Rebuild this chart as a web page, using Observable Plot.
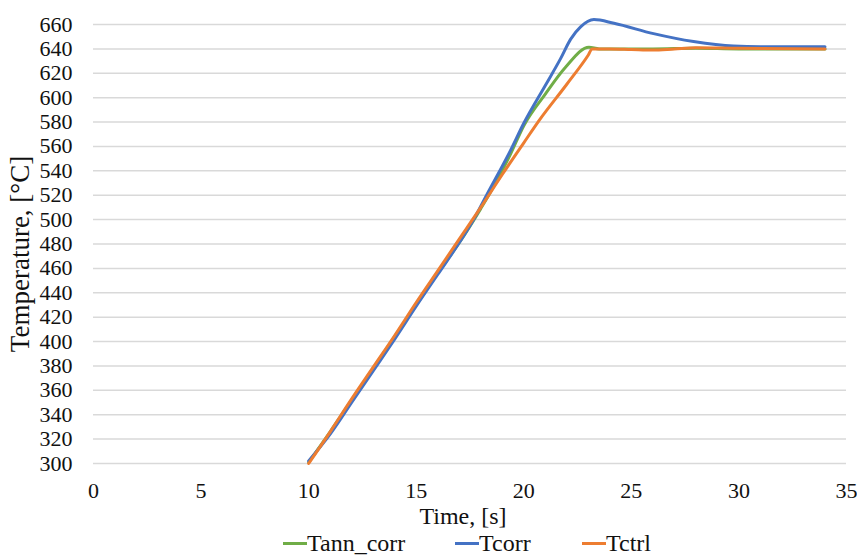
<!DOCTYPE html>
<html>
<head>
<meta charset="utf-8">
<script src="https://cdn.jsdelivr.net/npm/d3@7"></script>
<script src="https://cdn.jsdelivr.net/npm/@observablehq/plot@0.6"></script>
<style>
  html, body { margin: 0; padding: 0; background: #fff; }
  #chart { width: 857px; }
  #chart svg { display: block; }
  .legend { width: 857px; height: 27px; font-family: "Liberation Serif", serif; font-size: 24px; color: #111; white-space: nowrap; padding-left: 283px; box-sizing: border-box; }
  .legend span.item { display: inline-flex; align-items: center; line-height: 26px; vertical-align: top; }
  .legend span.sw { display: inline-block; width: 24px; height: 3px; }
</style>
</head>
<body>
<div id="chart"></div>
<script>
const seriesNames = ["Tann_corr", "Tcorr", "Tctrl"];
const seriesColors = ["#70AD47", "#4472C4", "#ED7D31"];

const tannTime = [10, 11, 12, 13, 14, 15, 16, 17, 18, 18.5, 19.39, 20.0, 21.0, 21.94, 23.03, 23.5, 24, 26, 28, 30, 34];
const tannTemp = [301, 326, 352, 378, 404, 430, 456, 481, 509, 524, 554, 577, 603, 625, 641.4, 640, 640, 640, 640.5, 640, 640];

const tcorrTime = [10, 11, 12, 13, 14, 15, 16, 17, 17.67, 18.3, 19.39, 20.0, 21.0, 21.71, 22.18, 22.64, 23.26, 24.19, 26.03, 27.89, 29.75, 31, 34];
const tcorrTemp = [302, 324, 350, 376, 402, 429, 455, 481, 500, 521, 557, 579, 610, 632, 648, 658, 664, 661, 652.5, 646, 642.3, 641.8, 641.8];

const tctrlTime = [10, 11, 12, 13, 14, 15, 16, 17, 18, 19, 20, 20.7, 22, 23, 23.18, 24, 25, 26, 27, 28, 30, 34];
const tctrlTemp = [300, 326, 353, 379, 405, 432, 458, 484, 510, 537, 563, 581, 611, 635, 640, 640, 639.5, 639, 640, 641, 640.5, 640];

const xTicks = [0, 5, 10, 15, 20, 25, 30, 35];
const yTicks = d3.range(300, 661, 20);
const xTitle = "Time, [s]";
const yTitle = "Temperature, [°C]";

const series = [
  tannTime.map((t, i) => ({t, v: tannTemp[i], s: seriesNames[0]})),
  tcorrTime.map((t, i) => ({t, v: tcorrTemp[i], s: seriesNames[1]})),
  tctrlTime.map((t, i) => ({t, v: tctrlTemp[i], s: seriesNames[2]}))
];

const FONT = "'Liberation Serif', serif";
const INK = "#111";

const chart = Plot.plot({
  width: 857,
  height: 530,
  marginLeft: 93,
  marginRight: 11,
  marginTop: 24,
  marginBottom: 67,
  style: { fontFamily: FONT, fontSize: "22px", color: INK, background: "#fff" },
  x: { domain: [0, 35], axis: null },
  y: { domain: [300, 660], axis: null },
  marks: [
    Plot.gridY(yTicks, { stroke: "#d9d9d9", strokeOpacity: 1, strokeWidth: 1.5 }),
    Plot.text(xTicks, { x: d => d, text: d => String(d), frameAnchor: "bottom", dy: 27, lineAnchor: "middle", textAnchor: "middle", fontFamily: FONT, fontSize: 22, fill: INK }),
    Plot.text(yTicks, { y: d => d, text: d => String(d), frameAnchor: "left", dx: -21, lineAnchor: "middle", textAnchor: "end", fontFamily: FONT, fontSize: 22, fill: INK }),
    ...series.map((d, i) => Plot.line(d, { x: "t", y: "v", stroke: seriesColors[i], strokeWidth: 3, curve: "monotone-x" })),
    Plot.text([xTitle], { frameAnchor: "bottom", dx: -7, dy: 60, fontSize: 24, fontFamily: FONT, fill: INK, lineAnchor: "bottom", textAnchor: "middle" }),
    Plot.text([yTitle], { frameAnchor: "left", dx: -73, dy: 10, rotate: -90, fontSize: 27, fontFamily: FONT, fill: INK, textAnchor: "middle", lineAnchor: "middle" })
  ]
});
document.getElementById("chart").appendChild(chart);

const legendW = [172, 127, 80];
const legend = document.createElement("div");
legend.className = "legend";
seriesNames.forEach((n, i) => {
  const item = document.createElement("span");
  item.className = "item";
  item.style.width = legendW[i] + "px";
  const sw = document.createElement("span");
  sw.className = "sw";
  sw.style.background = seriesColors[i];
  item.appendChild(sw);
  item.appendChild(document.createTextNode(n));
  legend.appendChild(item);
});
document.getElementById("chart").appendChild(legend);
</script>
</body>
</html>
